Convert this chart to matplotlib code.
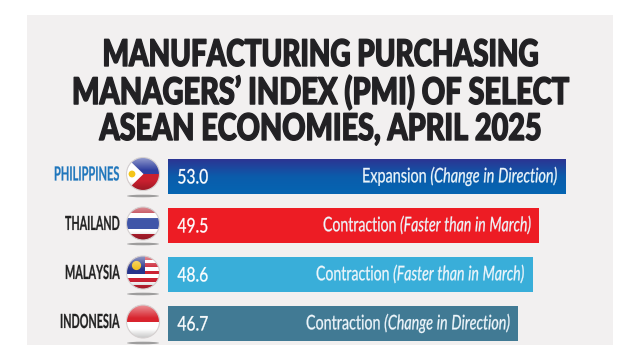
import numpy as np
import matplotlib
matplotlib.use('Agg')
import matplotlib.pyplot as plt
import matplotlib.patheffects as pe
from matplotlib.colors import LinearSegmentedColormap
from matplotlib.patches import Circle, Ellipse, Polygon, Rectangle
from matplotlib.transforms import Affine2D

##### data #####
countries = ['PHILIPPINES', 'THAILAND', 'MALAYSIA', 'INDONESIA']
pmi       = [53.0, 49.5, 48.6, 46.7]
status    = ['Expansion', 'Contraction', 'Contraction', 'Contraction']
detail    = ['(Change in Direction)', '(Faster than in March)',
             '(Faster than in March)', '(Change in Direction)']
title_lines = ['MANUFACTURING PURCHASING',
               'MANAGERS\u2019 INDEX (PMI) OF SELECT',
               'ASEAN ECONOMIES, APRIL 2025']

bar_cols  = ['#0a5fab', '#ed1c24', '#39aed9', '#417a94']
name_cols = ['#1f76bc', '#222222', '#222222', '#222222']
DARK      = '#222124'
PANEL     = '#f2f0f0'

# parens in math mode come from rm, so rm is italic too
plt.rcParams['mathtext.fontset'] = 'custom'
plt.rcParams['mathtext.rm'] = 'Lato:italic'
plt.rcParams['mathtext.it'] = 'Lato:italic'
plt.rcParams['mathtext.bf'] = 'Lato:bold'


##### squeeze text sideways, there is no real condensed font #####
class Squeeze(pe.AbstractPathEffect):
    def __init__(self, x0, sx, stroke=0):
        super().__init__()
        self.x0 = x0
        self.sx = sx
        self.stroke = stroke

    def draw_path(self, renderer, gc, tpath, affine, rgbFace=None):
        sq = Affine2D().translate(-self.x0, 0).scale(self.sx, 1).translate(self.x0, 0)
        gc0 = renderer.new_gc()
        gc0.copy_properties(gc)
        if self.stroke > 0:
            gc0.set_linewidth(self.stroke)
            gc0.set_foreground(rgbFace)
        renderer.draw_path(gc0, tpath, affine + sq, rgbFace)
        gc0.restore()


def text_w(t):
    return t.get_window_extent(fig.canvas.get_renderer()).width


def fit_w(t, x0, width, stroke=0):
    t.set_path_effects([Squeeze(x0, width / text_w(t), stroke)])


fig = plt.figure(figsize=(6.4, 3.6), dpi=100, facecolor='white')

##### pixel layer for panel, title, flags #####
bg = fig.add_axes([0, 0, 1, 1])
bg.axis('off')
bg.set_xlim(0, 640)
bg.set_ylim(360, 0)
bg.add_patch(Rectangle((27, 15), 586, 330, fc=PANEL, ec='none'))

title_y = [52, 89, 126]
title_w = [435, 496, 441]
for line, y, w in zip(title_lines, title_y, title_w):
    t = bg.text(320, y, line, ha='center', va='center_baseline', fontsize=26.5,
                family='Lato', weight='black', color=DARK)
    fit_w(t, 320, w, stroke=1.0)

flag_y   = [174, 223.5, 272.5, 321.5]
shadow_y = [196, 244, 294, 343]
R = 16.5
gloss = np.zeros((64, 2, 4))
gloss[:, :, :3] = 1.0
gloss[:, :, 3] = np.concatenate([np.linspace(0.5, 0.0, 26), np.zeros(38)])[:, None]
shade = np.zeros((64, 2, 4))
shade[:, :, 3] = np.concatenate([np.zeros(46), np.linspace(0.0, 0.22, 18)])[:, None]


def flag_parts(i, cx, cy):
    l, t = cx - R, cy - R
    d = 2 * R
    parts = []
    if i == 0:
        parts.append(Rectangle((l, t), d, R, fc='#2f3f9f', ec='none'))
        parts.append(Rectangle((l, cy), d, R, fc='#c9202f', ec='none'))
        parts.append(Polygon([(l, t), (l + 17, cy), (l, t + d)], fc='white', ec='none'))
        parts.append(Circle((l + 5.5, cy), 3.4, fc='#f5c518', ec='none'))
    elif i == 1:
        hs = [(0, 6, '#b5202f'), (6, 5, 'white'), (11, 11, '#3f55a8'),
              (22, 5, 'white'), (27, 6, '#b5202f')]
        for y0, h, c in hs:
            parts.append(Rectangle((l, t + y0), d, h, fc=c, ec='none'))
    elif i == 2:
        n = 9
        for k in range(n):
            c = '#cc2233' if k % 2 == 0 else 'white'
            parts.append(Rectangle((l, t + k * d / n), d, d / n, fc=c, ec='none'))
        parts.append(Rectangle((l, t), 18, 18, fc='#27358c', ec='none'))
        parts.append(Circle((l + 10, t + 9.5), 4.6, fc='#f2c01e', ec='none'))
    else:
        parts.append(Rectangle((l, t), d, R, fc='#d8242e', ec='none'))
        parts.append(Rectangle((l, cy), d, R, fc='white', ec='none'))
    return parts


for i, cy in enumerate(flag_y):
    cx = 143
    bg.add_patch(Ellipse((cx, shadow_y[i]), 32, 2.6, fc='#666666', ec='none', alpha=0.6))
    clip = Circle((cx, cy), R, transform=bg.transData)
    for p in flag_parts(i, cx, cy):
        bg.add_patch(p)
        p.set_clip_path(clip)
    for g in (gloss, shade):
        im = bg.imshow(g, extent=(cx - R, cx + R, cy + R, cy - R), aspect='auto', zorder=3)
        im.set_clip_path(clip)
    bg.add_patch(Circle((cx, cy), R, fc='none', ec='#d5d0d0', lw=0.8, zorder=4))

bg.set_xlim(0, 640)
bg.set_ylim(360, 0)

##### bars #####
ax = fig.add_axes([168 / 640, 15 / 360, 445 / 640, 195 / 360])
ax.patch.set_alpha(0)
ax.axis('off')
ypos = np.arange(len(pmi))
bars = ax.barh(ypos, pmi, height=35 / 49, color=bar_cols, edgecolor='none')

blue_grad = LinearSegmentedColormap.from_list('bl', ['#2c3593', '#0b5cab', '#0565b2'])
im = ax.imshow(np.linspace(0, 1, 64)[:, None], extent=(0, pmi[0], 35 / 98, -35 / 98),
               cmap=blue_grad, aspect='auto', zorder=3)
im.set_clip_path(bars[0])
ax.set_xlim(0, 445 / 7.5)
ax.set_ylim(168.5 / 49, -26.5 / 49)

name_w = [66, 55, 55, 60]
msg_left = [362, 323, 316, 306]
for i in ypos:
    bar_end, y_px = ax.transData.transform((pmi[i], i))
    x_val = ax.transData.transform((1.25, i))[0]

    val = ax.text(1.25, i, '%.1f' % pmi[i], color='white', fontsize=14.5, family='Lato',
                  ha='left', va='center_baseline', zorder=5)
    fit_w(val, x_val, 31, stroke=0.2)

    # status and italic detail are one text, right end sits near the bar end
    x_r = bar_end - 7.5
    msg = status[i] + ' $\\mathit{' + detail[i].replace(' ', '\\ ') + '}$'
    st = fig.text(x_r / 640, (y_px + 3) / 360, msg, color='#eef6fb', fontsize=14.5,
                  family='Lato', ha='right', va='center_baseline', zorder=5)
    fit_w(st, x_r, x_r - msg_left[i], stroke=0.2)

    # country name
    nm = bg.text(120, flag_y[i] - 0.5, countries[i], color=name_cols[i], fontsize=14,
                 family='Lato', weight='bold', ha='right', va='center_baseline')
    fit_w(nm, 120, name_w[i], stroke=0.15)

fig.savefig('out.png', dpi=100, facecolor='white')
